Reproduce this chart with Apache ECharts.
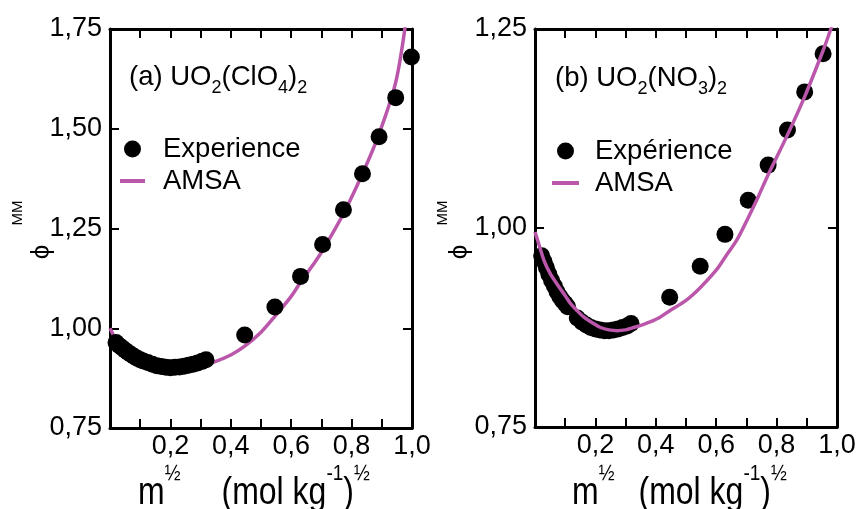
<!DOCTYPE html>
<html>
<head>
<meta charset="utf-8">
<script src="https://cdn.jsdelivr.net/npm/echarts@6/dist/echarts.min.js"></script>
<style>
html,body{margin:0;padding:0;background:#fff;}
#chart{width:859px;height:509px;}
</style>
</head>
<body>
<div id="chart"></div>
<script>
// ---- Data ----
const leftExpX = [0.020,0.030,0.040,0.050,0.060,0.070,0.080,0.090,0.100,0.110,0.125,0.140,0.155,0.170,0.185,0.200,0.215,0.230,0.245,0.260,0.275,0.290,0.305,0.318,0.446,0.546,0.631,0.704,0.773,0.836,0.891,0.946,0.998];
const leftExpY = [0.964,0.957,0.951,0.945,0.939,0.934,0.929,0.925,0.921,0.918,0.914,0.910,0.906,0.904,0.902,0.901,0.902,0.903,0.905,0.907,0.910,0.913,0.917,0.921,0.983,1.053,1.130,1.210,1.297,1.387,1.480,1.578,1.680];
const leftAmsaX = [0.000,0.010,0.020,0.040,0.060,0.080,0.100,0.130,0.160,0.200,0.250,0.300,0.340,0.400,0.446,0.500,0.546,0.600,0.631,0.680,0.704,0.773,0.836,0.891,0.946,0.980];
const leftAmsaY = [1.000,0.985,0.972,0.955,0.942,0.931,0.922,0.912,0.905,0.900,0.901,0.906,0.914,0.933,0.955,0.990,1.030,1.080,1.115,1.167,1.195,1.287,1.387,1.487,1.616,1.770];

const rightExpX = [0.022,0.030,0.038,0.046,0.055,0.064,0.073,0.082,0.091,0.100,0.108,0.140,0.155,0.170,0.185,0.200,0.215,0.230,0.245,0.260,0.275,0.290,0.305,0.318,0.446,0.547,0.629,0.706,0.772,0.836,0.893,0.954];
const rightExpY = [0.965,0.958,0.950,0.942,0.934,0.927,0.920,0.914,0.909,0.905,0.901,0.887,0.882,0.878,0.875,0.873,0.872,0.871,0.871,0.872,0.873,0.875,0.877,0.880,0.913,0.952,0.992,1.035,1.079,1.123,1.171,1.219];
const rightAmsaX = [0.000,0.010,0.030,0.050,0.074,0.100,0.118,0.140,0.162,0.190,0.217,0.245,0.272,0.300,0.327,0.360,0.381,0.414,0.446,0.500,0.547,0.600,0.629,0.670,0.706,0.740,0.772,0.836,0.893,0.954,0.976,0.985];
const rightAmsaY = [0.995,0.983,0.959,0.943,0.929,0.915,0.905,0.896,0.888,0.881,0.875,0.872,0.871,0.872,0.875,0.879,0.882,0.888,0.896,0.909,0.925,0.947,0.963,0.986,1.013,1.040,1.067,1.117,1.165,1.223,1.246,1.256];

const xTicks = [0.2,0.4,0.6,0.8,1.0];
const leftYTicks = [0.75,1.00,1.25,1.50,1.75];
const rightYTicks = [0.75,1.00,1.25];
const legendLeft = ['Experience','AMSA'];
const legendRight = ['Expérience','AMSA'];
const titleLeft = ['(a) UO','2','(ClO','4',')','2'];
const titleRight = ['(b) UO','2','(NO','3',')','2'];

// ---- Build ----
const FONT = '"Liberation Sans", Arial, Helvetica, sans-serif';
const AMSA_COLOR = '#bb57aa';
const zip = (xs, ys) => xs.map((x, i) => [x, ys[i]]);

function xFmt(v){
  const r = Math.round(v*10)/10;
  return xTicks.some(t => Math.abs(t - r) < 1e-6) ? r.toFixed(1).replace('.', ',') : '';
}
function yFmt(ticks){
  return v => ticks.some(t => Math.abs(t - v) < 1e-6) ? v.toFixed(2).replace('.', ',') : '';
}
const axisLine = {show:true, onZero:false, lineStyle:{color:'#000', width:3}};
const tick = {show:true, inside:true, length:9, lineStyle:{color:'#000', width:2}};

function xAxes(gi){
  return [
    {gridIndex:gi, type:'value', min:0, max:1, interval:0.1, position:'bottom',
     axisLine, axisTick:tick, splitLine:{show:false},
     axisLabel:{formatter:xFmt, fontSize:27, color:'#000', fontFamily:FONT, margin:5, showMinLabel:true, showMaxLabel:true}},
    {gridIndex:gi, type:'value', min:0, max:1, interval:0.1, position:'top',
     axisLine, axisTick:tick, splitLine:{show:false}, axisLabel:{show:false}}
  ];
}
function yAxes(gi, min, max, ticks){
  return [
    {gridIndex:gi, type:'value', min, max, interval:0.25, position:'left',
     axisLine, axisTick:tick, splitLine:{show:false},
     axisLabel:{formatter:yFmt(ticks), fontSize:27, color:'#000', fontFamily:FONT, margin:8}},
    {gridIndex:gi, type:'value', min, max, interval:0.25, position:'right',
     axisLine, axisTick:tick, splitLine:{show:false}, axisLabel:{show:false}}
  ];
}

function titleText(parts){
  return '{n|'+parts[0]+'}{s|'+parts[1]+'}{n|'+parts[2]+'}{s|'+parts[3]+'}{n|'+parts[4]+'}{s|'+parts[5]+'}';
}
const titleRich = {
  n:{fontSize:27.5, verticalAlign:'top', fontFamily:FONT, fill:'#000'},
  s:{fontSize:18, verticalAlign:'top', padding:[16,0,0,0], fontFamily:FONT, fill:'#000'}
};
function xTitle(gap){
  return {
    text:'{m|m}{u|½}{g| }{m|(mol kg}{u|-1}{m|)}{u|½}',
    rich:{
      m:{fontSize:32, verticalAlign:'top', padding:[10,0,0,0], fontFamily:FONT, fill:'#000'},
      u:{fontSize:19, verticalAlign:'top', fontFamily:FONT, fill:'#000'},
      g:{width:gap, fontSize:10, verticalAlign:'top'}
    },
    verticalAlign:'top'
  };
}
function yTitle(px, py, mx, my){
  return [
    {type:'text', x:px, y:py, rotation:Math.PI/2, style:{text:'ϕ', fontSize:26, fontFamily:FONT, fill:'#000', align:'center', verticalAlign:'middle'}},
    {type:'text', x:mx, y:my, rotation:Math.PI/2, style:{text:'MM', fontSize:15, fontFamily:FONT, fill:'#000', align:'center', verticalAlign:'middle'}}
  ];
}
const amsaLegendItem = {name:'AMSA', itemStyle:{opacity:0}, lineStyle:{width:4, color:AMSA_COLOR}};

const option = {
  animation:false,
  backgroundColor:'#fff',
  grid:[
    {left:110, top:29, width:302, height:399},
    {left:535, top:29, width:302, height:398}
  ],
  xAxis:[...xAxes(0), ...xAxes(1)],
  yAxis:[...yAxes(0, 0.75, 1.75, leftYTicks), ...yAxes(1, 0.75, 1.25, rightYTicks)],
  legend:[
    {data:[legendLeft[0], Object.assign({}, amsaLegendItem, {name:legendLeft[1]})], orient:'vertical', left:118, top:135, padding:0, itemWidth:25, itemHeight:17, itemGap:4,
     textStyle:{fontSize:27.5, color:'#000', fontFamily:FONT, padding:[0,0,0,13]}, selectedMode:false},
    {data:[legendRight[0], Object.assign({}, amsaLegendItem, {name:legendRight[1]})], orient:'vertical', left:550, top:137, padding:0, itemWidth:27, itemHeight:17, itemGap:4,
     textStyle:{fontSize:27.5, color:'#000', fontFamily:FONT, padding:[0,0,0,11]}, selectedMode:false}
  ],
  series:[
    {name:'AMSA', type:'line', xAxisIndex:0, yAxisIndex:0, data:zip(leftAmsaX, leftAmsaY),
     symbol:'none', smooth:0.3, clip:true, z:2, lineStyle:{color:AMSA_COLOR, width:3.5}, itemStyle:{color:AMSA_COLOR}},
    {name:'Experience', type:'scatter', xAxisIndex:0, yAxisIndex:0, data:zip(leftExpX, leftExpY),
     symbol:'circle', symbolSize:17, clip:false, z:3, itemStyle:{color:'#000', opacity:1}},
    {name:'Expérience', type:'scatter', xAxisIndex:2, yAxisIndex:2, data:zip(rightExpX, rightExpY),
     symbol:'circle', symbolSize:17, clip:false, z:2, itemStyle:{color:'#000', opacity:1}},
    {name:'AMSA', type:'line', xAxisIndex:2, yAxisIndex:2, data:zip(rightAmsaX, rightAmsaY),
     symbol:'none', smooth:0.3, clip:true, z:3, lineStyle:{color:AMSA_COLOR, width:3.5}, itemStyle:{color:AMSA_COLOR}}
  ],
  graphic:[
    {type:'text', x:129, y:63, style:{text:titleText(titleLeft), rich:titleRich, verticalAlign:'top'}},
    {type:'text', x:555, y:64, style:{text:titleText(titleRight), rich:titleRich, verticalAlign:'top'}},
    {type:'text', x:138, y:469, originY:34, scaleY:1.2, style:xTitle(41)},
    {type:'text', x:572, y:469, originY:34, scaleY:1.2, style:xTitle(24)},
    ...yTitle(42, 252, 18, 213),
    ...yTitle(460, 252, 443, 213)
  ]
};
const chart = echarts.init(document.getElementById('chart'), null, {renderer:'canvas'});
chart.setOption(option);
</script>
</body>
</html>
